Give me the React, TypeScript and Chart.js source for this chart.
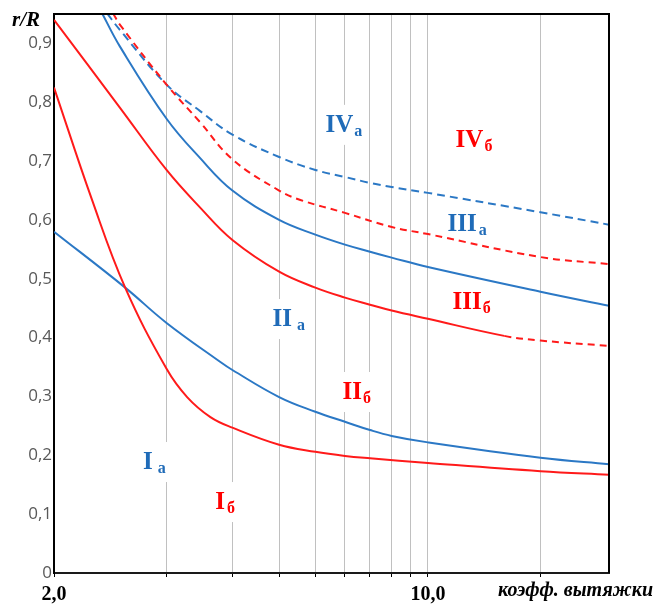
import React, { useEffect, useRef } from 'react';
import { Chart, registerables } from 'chart.js';

Chart.register(...registerables);

// ---- axis ticks ----
const xTicks = [1, 2, 3, 4, 5, 6, 7, 8, 9, 10, 20];
const xTickText: Record<number, string> = { 1: '2,0', 10: '10,0' };
const yTicks = [0, 0.1, 0.2, 0.3, 0.4, 0.5, 0.6, 0.7, 0.8, 0.9];
const xMin = 1;
const xMax = 30.5;
const yMin = 0;
const yMax = 0.95;

// ---- series: I б (red, lower) ----
const xIb = [1, 1.264, 1.55, 2, 2.27, 2.62, 3, 4, 5, 6, 7, 10, 20, 30.5];
const yIb = [0.825, 0.634, 0.485, 0.347, 0.299, 0.265, 0.247, 0.218, 0.206, 0.199, 0.195, 0.187, 0.173, 0.167];

// ---- series: I а (blue, lower) ----
const xIa = [1, 1.55, 2, 2.78, 3, 4, 5, 6, 7, 8, 10, 20, 30.5];
const yIa = [0.58, 0.485, 0.425, 0.359, 0.345, 0.299, 0.274, 0.257, 0.243, 0.233, 0.222, 0.196, 0.185];

// ---- series: II б (red, middle; dashed beyond 16) ----
const xIIb = [1, 1.5, 2, 2.46, 3, 4, 5, 6, 7, 8, 10, 16, 20, 30.5];
const yIIb = [0.94, 0.791, 0.685, 0.621, 0.566, 0.512, 0.485, 0.468, 0.456, 0.446, 0.432, 0.403, 0.395, 0.386];
const dashFrom = 16;

// ---- series: II а (blue, middle) ----
const xIIa = [1.345, 1.5, 2, 2.46, 3, 4, 5, 6, 7, 8, 10, 20, 30.5];
const yIIa = [0.951, 0.895, 0.772, 0.705, 0.65, 0.6, 0.575, 0.558, 0.546, 0.536, 0.52, 0.478, 0.454];

// ---- series: III б / IV б boundary (red dashed) ----
const xIIIb = [1.439, 1.5, 2, 2.46, 3, 4, 4.56, 6, 8, 10, 20, 30.5];
const yIIIb = [0.951, 0.932, 0.83, 0.766, 0.703, 0.65, 0.634, 0.612, 0.588, 0.576, 0.537, 0.525];

// ---- series: III а / IV а boundary (blue dashed) ----
const xIIIa = [1.387, 1.5, 2, 2.46, 3, 4, 5, 6, 7, 8, 10, 20, 30.5];
const yIIIa = [0.951, 0.923, 0.83, 0.785, 0.745, 0.707, 0.685, 0.673, 0.663, 0.656, 0.646, 0.613, 0.592];

// ---- region labels ----
const labelMain = ['IV', 'IV', 'III', 'III', 'II', 'II', 'I', 'I'];
const labelSub = ['а', 'б', 'а', 'б', 'а', 'б', 'а', 'б'];
const labelX = [5.32, 11.86, 11.28, 11.64, 3.84, 5.91, 1.73, 2.7];
const labelY = [0.765, 0.74, 0.597, 0.464, 0.435, 0.311, 0.192, 0.124];
const labelGap = [0, 0, 1, 0, 4, 0, 4, 1];

const BLUE = '#2b78c5';
const BLUE_TEXT = '#1f6bb8';
const RED = '#ff1a1a';
const RED_TEXT = '#ff0000';
const labelColor = [BLUE_TEXT, RED_TEXT, BLUE_TEXT, RED_TEXT, BLUE_TEXT, RED_TEXT, BLUE_TEXT, RED_TEXT];

const pts = (xs: number[], ys: number[]) => xs.map((x, i) => ({ x, y: ys[i] }));

const MAIN_FONT = 'bold 25px "Liberation Serif", "Times New Roman", serif';
const SUB_FONT = 'bold 16px "Liberation Serif", "Times New Roman", serif';

const overlayPlugin = {
  id: 'overlay',
  beforeDatasetsDraw(chart: any) {
    const { ctx, scales } = chart;
    ctx.save();
    ctx.fillStyle = '#ffffff';
    for (let i = 0; i < labelMain.length; i++) {
      const px = scales.x.getPixelForValue(labelX[i]);
      const py = scales.y.getPixelForValue(labelY[i]);
      ctx.font = MAIN_FONT;
      const w1 = ctx.measureText(labelMain[i]).width;
      ctx.font = SUB_FONT;
      const w2 = ctx.measureText(labelSub[i]).width;
      ctx.fillRect(px - 9, py - 18, w1 + w2 + labelGap[i] + 16, 40);
    }
    ctx.restore();
  },
  afterDatasetsDraw(chart: any) {
    const { ctx, scales } = chart;
    ctx.save();
    ctx.textBaseline = 'alphabetic';
    ctx.textAlign = 'left';
    for (let i = 0; i < labelMain.length; i++) {
      const px = scales.x.getPixelForValue(labelX[i]);
      const py = scales.y.getPixelForValue(labelY[i]);
      ctx.fillStyle = labelColor[i];
      ctx.font = MAIN_FONT;
      const base = py + 9;
      ctx.fillText(labelMain[i], px, base);
      const w1 = ctx.measureText(labelMain[i]).width;
      ctx.font = SUB_FONT;
      ctx.fillText(labelSub[i], px + w1 + 1 + labelGap[i], base + 4);
    }
    ctx.restore();
  },
  afterDraw(chart: any) {
    const { ctx, chartArea } = chart;
    const { left, right, top, bottom } = chartArea;
    ctx.save();
    ctx.strokeStyle = '#000';
    ctx.lineWidth = 2;
    ctx.beginPath();
    ctx.moveTo(left, top);
    ctx.lineTo(right, top);
    ctx.lineTo(right, bottom);
    ctx.stroke();
    ctx.fillStyle = '#000';
    ctx.textBaseline = 'middle';
    ctx.font = 'italic bold 21px "Liberation Serif", "Times New Roman", serif';
    ctx.textAlign = 'left';
    ctx.fillText('r/R', 12, 21);
    ctx.font = 'italic bold 20px "Liberation Serif", "Times New Roman", serif';
    ctx.textAlign = 'right';
    ctx.fillText('коэфф. вытяжки', 653, 591);
    ctx.restore();
  },
};

export default function App() {
  const ref = useRef<HTMLCanvasElement | null>(null);
  useEffect(() => {
    if (!ref.current) return;
    const common = { pointRadius: 0, pointHoverRadius: 0, borderWidth: 2, fill: false, tension: 0.4 };
    const chart = new Chart(ref.current, {
      type: 'line',
      data: {
        datasets: [
          { ...common, label: 'Iб', data: pts(xIb, yIb), borderColor: RED },
          { ...common, label: 'Iа', data: pts(xIa, yIa), borderColor: BLUE },
          {
            ...common,
            label: 'IIб',
            data: pts(xIIb, yIIb),
            borderColor: RED,
            segment: { borderDash: (c: any) => (c.p0.parsed.x >= dashFrom ? [7, 5] : undefined) },
          },
          { ...common, label: 'IIа', data: pts(xIIa, yIIa), borderColor: BLUE },
          { ...common, label: 'IIIб', data: pts(xIIIb, yIIIb), borderColor: RED, borderDash: [7, 5] },
          { ...common, label: 'IIIа', data: pts(xIIIa, yIIIa), borderColor: BLUE, borderDash: [8, 5] },
        ],
      },
      options: {
        responsive: false,
        animation: false,
        events: [],
        layout: { padding: { top: 14, right: 45, left: 0, bottom: 0 } },
        plugins: { legend: { display: false }, tooltip: { enabled: false }, title: { display: false } },
        scales: {
          x: {
            type: 'logarithmic',
            min: xMin,
            max: xMax,
            afterBuildTicks: (s: any) => {
              s.ticks = xTicks.map((v) => ({ value: v }));
            },
            afterFit: (s: any) => {
              s.height = 34;
            },
            grid: { color: '#c0c0c0', lineWidth: 1, tickColor: '#000', tickLength: 4, drawOnChartArea: true },
            border: { display: true, color: '#1a1a1a', width: 2 },
            ticks: {
              autoSkip: false,
              maxRotation: 0,
              padding: 6,
              color: '#000',
              font: { family: '"Liberation Serif", "Times New Roman", serif', weight: 'bold', size: 20 },
              callback: (v: any) => xTickText[Number(v)] ?? '',
            },
          },
          y: {
            type: 'linear',
            min: yMin,
            max: yMax,
            afterBuildTicks: (s: any) => {
              s.ticks = yTicks.map((v) => ({ value: v }));
            },
            afterFit: (s: any) => {
              s.width = 54;
            },
            grid: { display: false, drawTicks: false },
            border: { display: true, color: '#000', width: 2 },
            ticks: {
              padding: 2,
              color: '#595959',
              font: { family: '"Open Sans", "Liberation Sans", sans-serif', size: 17 },
              callback: (v: any) => (Number(v) === 0 ? '0' : Number(v).toFixed(1).replace('.', ',')),
            },
          },
        },
      },
      plugins: [overlayPlugin],
    } as any);
    return () => chart.destroy();
  }, []);
  return (
    <div style={{ position: 'absolute', left: 0, top: 0, width: 654, height: 607, background: '#fff' }}>
      <canvas ref={ref} width={654} height={607} style={{ display: 'block' }} />
    </div>
  );
}
